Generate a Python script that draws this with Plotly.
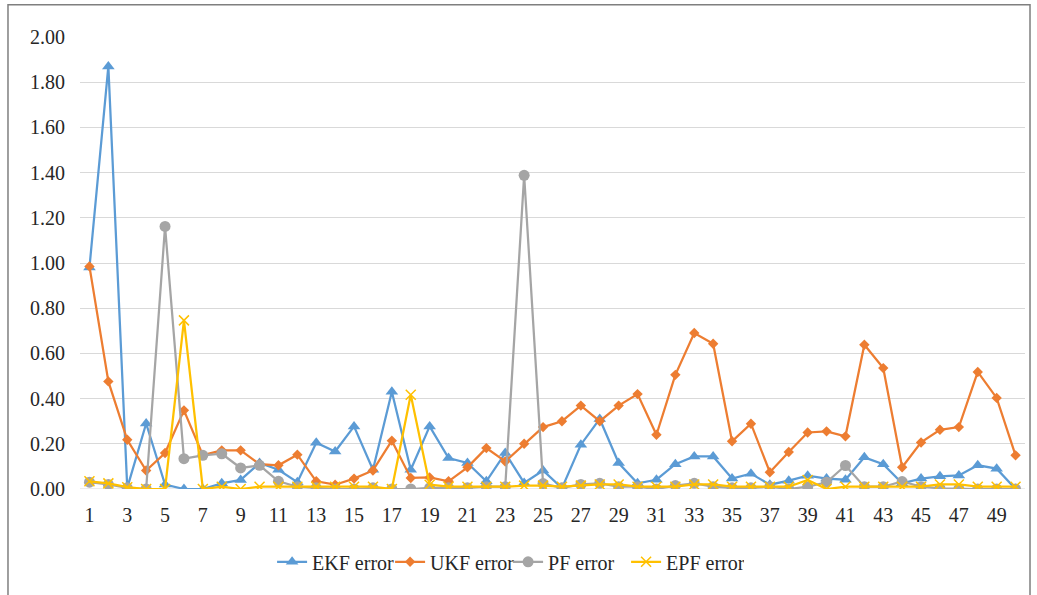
import plotly.graph_objects as go

steps = list(range(1, 51))
tick_vals = list(range(1, 50, 2))
tick_text = [str(v) for v in tick_vals]
y_ticks = [0.0, 0.2, 0.4, 0.6, 0.8, 1.0, 1.2, 1.4, 1.6, 1.8, 2.0]
y_tick_text = ["%.2f" % v for v in y_ticks]

ekf = [0.98, 1.87, 0.005, 0.29, 0.02, 0.0, 0.0, 0.025, 0.04, 0.115,
       0.085, 0.03, 0.205, 0.166, 0.277, 0.085, 0.43, 0.085, 0.277, 0.137,
       0.115, 0.034, 0.159, 0.027, 0.082, 0.004, 0.196, 0.31, 0.115, 0.025,
       0.041, 0.11, 0.144, 0.144, 0.046, 0.068, 0.019, 0.037, 0.059, 0.046,
       0.041, 0.14, 0.11, 0.025, 0.046, 0.056, 0.06, 0.105, 0.09, 0.0]
ukf = [0.985, 0.476, 0.218, 0.082, 0.159, 0.348, 0.15, 0.171, 0.171, 0.11,
       0.105, 0.152, 0.034, 0.019, 0.046, 0.082, 0.214, 0.049, 0.051, 0.034,
       0.096, 0.181, 0.122, 0.2, 0.274, 0.3, 0.369, 0.3, 0.369, 0.42,
       0.24, 0.505, 0.69, 0.643, 0.211, 0.289, 0.074, 0.164, 0.25, 0.255,
       0.233, 0.638, 0.535, 0.096, 0.206, 0.262, 0.274, 0.518, 0.403, 0.149]
pf = [0.03, 0.02, 0.005, 0.0, 1.162, 0.134, 0.149, 0.156, 0.093, 0.105,
      0.034, 0.01, 0.005, 0.0, 0.0, 0.005, 0.0, 0.0, 0.005, 0.005,
      0.005, 0.01, 0.01, 1.388, 0.024, 0.005, 0.02, 0.025, 0.01, 0.01,
      0.0, 0.015, 0.025, 0.01, 0.005, 0.005, 0.01, 0.0, 0.01, 0.03,
      0.104, 0.01, 0.01, 0.033, 0.01, 0.003, 0.0, 0.0, 0.0, 0.0]
epf = [0.034, 0.025, 0.008, 0.0, 0.0, 0.746, 0.0, 0.01, 0.0, 0.01,
       0.01, 0.01, 0.01, 0.01, 0.01, 0.01, 0.0, 0.417, 0.019, 0.01,
       0.01, 0.01, 0.01, 0.015, 0.015, 0.01, 0.015, 0.02, 0.02, 0.01,
       0.01, 0.01, 0.02, 0.02, 0.01, 0.01, 0.01, 0.01, 0.04, 0.0,
       0.01, 0.01, 0.01, 0.01, 0.01, 0.02, 0.02, 0.01, 0.01, 0.01]

series = [
    ("EKF error", ekf, "#5B9BD5", "triangle-up", 11),
    ("UKF error", ukf, "#ED7D31", "diamond", 8),
    ("PF error", pf, "#A5A5A5", "circle", 11),
    ("EPF error", epf, "#FFC000", "x-thin", 10),
]

fig = go.Figure()
for name, vals, color, sym, size in series:
    marker = dict(symbol=sym, size=size, color=color)
    if sym == "x-thin":
        marker["line"] = dict(color=color, width=1.5)
    fig.add_trace(go.Scatter(
        x=steps, y=vals, name=name, mode="lines+markers",
        line=dict(color=color, width=2.25),
        marker=marker,
    ))

font_family = "Liberation Serif"
text_color = "#262626"

fig.update_layout(
    width=1037, height=595,
    margin=dict(l=80, r=12, t=37, b=106),
    paper_bgcolor="white", plot_bgcolor="white",
    font=dict(family=font_family, size=20, color=text_color),
    showlegend=True,
    legend=dict(orientation="h", x=0.453, xanchor="center", y=-0.161, yanchor="middle",
                font=dict(family=font_family, size=20, color=text_color),
                itemwidth=30, tracegroupgap=0, entrywidth=73, entrywidthmode="pixels"),
    xaxis=dict(range=[0.5, 50.5], tickmode="array", tickvals=tick_vals, ticktext=tick_text,
               showgrid=False, zeroline=False, showline=False,
               ticks="outside", ticklen=8, tickcolor="rgba(0,0,0,0)",
               tickfont=dict(family=font_family, size=20, color=text_color)),
    yaxis=dict(range=[0, 2.0], tickmode="array", tickvals=y_ticks, ticktext=y_tick_text,
               showgrid=True, gridcolor="#D9D9D9", gridwidth=1, zeroline=False, showline=False,
               ticks="outside", ticklen=10, tickcolor="rgba(0,0,0,0)",
               tickfont=dict(family=font_family, size=20, color=text_color)),
    shapes=[
        dict(type="rect", xref="paper", yref="paper",
             x0=-0.0762, x1=1.0053, y0=-0.26, y1=1.0715,
             line=dict(color="#7F7F7F", width=1.5), fillcolor="rgba(0,0,0,0)", layer="below"),
        dict(type="line", xref="paper", yref="y", x0=0, x1=1, y0=0, y1=0,
             line=dict(color="#D9D9D9", width=1), layer="below"),
    ],
)

fig.write_html("out.html", config={"displayModeBar": False},
               post_script="document.body.style.margin='0px';document.body.style.overflow='hidden';")
